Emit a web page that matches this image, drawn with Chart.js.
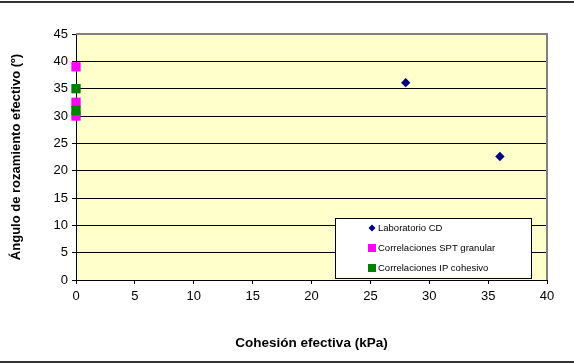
<!DOCTYPE html>
<html lang="es">
<head>
    <meta charset="UTF-8">
    <title>Cohesión vs ángulo de rozamiento</title>
    <script src="https://cdn.jsdelivr.net/npm/chart.js"></script>
    <style>
        html, body { margin: 0; padding: 0; background: #fff; }
        #wrap { position: relative; width: 574px; height: 363px; }
    </style>
</head>
<body>
    <div id="wrap">
        <canvas id="chartFriccion" width="574" height="363"></canvas>
    </div>

    <script>
        // datos
        const seriesNames = ['Laboratorio CD', 'Correlaciones SPT granular', 'Correlaciones IP cohesivo'];
        const labX = [28, 36];
        const labY = [36.1, 22.6];
        const sptX = [0, 0, 0];
        const sptY = [39, 32.5, 30];
        const ipX = [0, 0];
        const ipY = [35, 31];
        const xTicks = [0, 5, 10, 15, 20, 25, 30, 35, 40];
        const yTicks = [0, 5, 10, 15, 20, 25, 30, 35, 40, 45];

        const FONT = "'Liberation Sans', Arial, sans-serif";

        function toPoints(xs, ys) {
            return xs.map((x, i) => ({ x: x, y: ys[i] }));
        }

        // fondo amarillo del área y marco de la página
        const fondoPlugin = {
            id: 'fondo',
            beforeDraw(chart) {
                const { ctx, chartArea: a } = chart;
                ctx.save();
                ctx.fillStyle = '#FFFFCC';
                ctx.fillRect(a.left, a.top, a.right - a.left, a.bottom - a.top);
                ctx.fillStyle = '#333';
                ctx.fillRect(0, 1, chart.width, 2);
                ctx.fillRect(0, chart.height - 2, chart.width, 2);
                ctx.restore();
            },
            beforeDatasetsDraw(chart) {
                const { ctx, chartArea: a } = chart;
                ctx.save();
                ctx.strokeStyle = '#808080';
                ctx.lineWidth = 2;
                ctx.beginPath();
                ctx.moveTo(a.left, a.top);
                ctx.lineTo(a.right, a.top);
                ctx.lineTo(a.right, a.bottom);
                ctx.stroke();
                ctx.restore();
            }
        };

        // leyenda dentro del área, como en Excel
        const leyendaPlugin = {
            id: 'leyenda',
            afterDatasetsDraw(chart) {
                const { ctx, chartArea: a } = chart;
                const x0 = a.left + 259, y0 = a.bottom - 62, w = 196, h = 60;
                ctx.save();
                ctx.fillStyle = '#fff';
                ctx.fillRect(x0, y0, w, h);
                ctx.strokeStyle = '#000';
                ctx.lineWidth = 1;
                ctx.strokeRect(x0 + 0.5, y0 + 0.5, w, h);
                ctx.font = '9.5px ' + FONT;
                ctx.textBaseline = 'middle';
                chart.data.datasets.forEach((ds, i) => {
                    const cy = y0 + 10 + i * 20;
                    const cx = x0 + 37;
                    ctx.fillStyle = ds.backgroundColor;
                    if (ds.pointStyle === 'rectRot') {
                        ctx.beginPath();
                        ctx.moveTo(cx, cy - 3.5);
                        ctx.lineTo(cx + 3.5, cy);
                        ctx.lineTo(cx, cy + 3.5);
                        ctx.lineTo(cx - 3.5, cy);
                        ctx.closePath();
                        ctx.fill();
                    } else {
                        ctx.fillRect(cx - 4, cy - 4, 8, 8);
                    }
                    ctx.fillStyle = '#000';
                    ctx.fillText(ds.label, cx + 6, cy);
                });
                ctx.restore();
            }
        };

        const ctx = document.getElementById('chartFriccion').getContext('2d');
        new Chart(ctx, {
            type: 'scatter',
            data: {
                datasets: [{
                    label: seriesNames[0],
                    data: toPoints(labX, labY),
                    pointStyle: 'rectRot',
                    pointRadius: 4.7,
                    backgroundColor: '#000080',
                    borderColor: '#000080',
                    borderWidth: 0,
                    clip: false,
                    order: 0
                }, {
                    label: seriesNames[1],
                    data: toPoints(sptX, sptY),
                    pointStyle: 'rect',
                    pointRadius: 6.6,
                    backgroundColor: '#FF00FF',
                    borderColor: '#FF00FF',
                    borderWidth: 0,
                    clip: false,
                    order: 2
                }, {
                    label: seriesNames[2],
                    data: toPoints(ipX, ipY),
                    pointStyle: 'rect',
                    pointRadius: 6.6,
                    backgroundColor: '#008000',
                    borderColor: '#008000',
                    borderWidth: 0,
                    clip: false,
                    order: 1
                }]
            },
            options: {
                responsive: false,
                animation: false,
                layout: { padding: { top: 34, right: 27, left: 0, bottom: 0 } },
                plugins: {
                    legend: { display: false },
                    tooltip: { enabled: false }
                },
                scales: {
                    x: {
                        type: 'linear',
                        min: 0,
                        max: 40,
                        afterBuildTicks: s => { s.ticks = xTicks.map(v => ({ value: v })); },
                        afterFit: s => { s.height = 83; },
                        border: { color: '#000', width: 1 },
                        grid: { drawOnChartArea: false, drawTicks: true, tickLength: 4, color: '#000' },
                        ticks: { color: '#000', padding: 5, maxRotation: 0, font: { family: FONT, size: 13 } },
                        title: {
                            display: true,
                            text: 'Cohesión efectiva (kPa)',
                            color: '#000',
                            font: { family: FONT, size: 13.5, weight: 'bold' },
                            padding: { top: 0, bottom: 12 }
                        }
                    },
                    y: {
                        type: 'linear',
                        min: 0,
                        max: 45,
                        afterBuildTicks: s => { s.ticks = yTicks.map(v => ({ value: v })); },
                        afterFit: s => { s.width = 76; },
                        border: { color: '#000', width: 1 },
                        grid: { color: '#000', lineWidth: 1, drawTicks: true, tickLength: 4 },
                        ticks: { color: '#000', padding: 4, font: { family: FONT, size: 13 } },
                        title: {
                            display: true,
                            text: 'Ángulo de rozamiento efectivo (º)',
                            color: '#000',
                            font: { family: FONT, size: 13, weight: 'bold' },
                            padding: { top: 9, bottom: 0 }
                        }
                    }
                }
            },
            plugins: [fondoPlugin, leyendaPlugin]
        });
    </script>
</body>
</html>
